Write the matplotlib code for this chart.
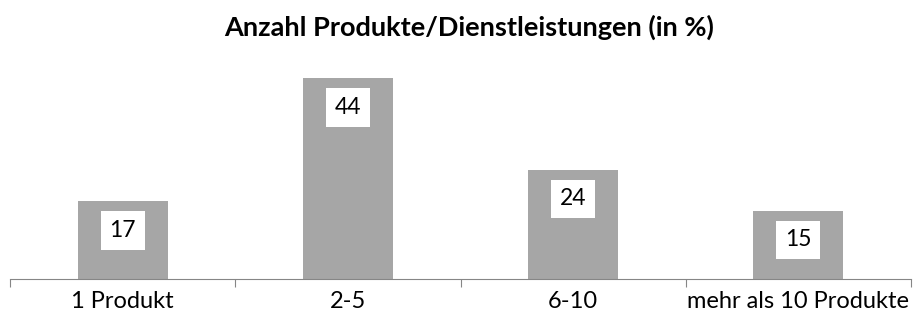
import numpy as np
import matplotlib
matplotlib.use('Agg')
import matplotlib.pyplot as plt

categories = ['1 Produkt', '2-5', '6-10', 'mehr als 10 Produkte']
values = [17, 44, 24, 15]
title = 'Anzahl Produkte/Dienstleistungen (in %)'

plt.rcParams['font.family'] = ['Lato', 'DejaVu Sans']

fig = plt.figure(figsize=(9.17, 3.24), dpi=100)
ax = fig.add_axes([10 / 917, 1 - 279 / 324, 901 / 917, 228 / 324])

x = np.arange(len(categories))
ax.bar(x, values, width=0.4, color='#a6a6a6', zorder=2)
ax.set_xlim(-0.5, len(categories) - 0.5)
ax.set_ylim(0, 50)

# value labels in white boxes, a fixed distance below each bar top
for xi, v in zip(x, values):
    ax.annotate(str(v), (xi, v), xytext=(0, -21), textcoords='offset points',
                ha='center', va='center', fontsize=16.5, color='black',
                bbox=dict(boxstyle='square,pad=0.38', fc='white', ec='none'),
                zorder=3)

# ticks at the category boundaries, labels at the centres
ax.set_xticks(np.arange(len(categories) + 1) - 0.5)
ax.set_xticklabels([])
ax.tick_params(axis='x', which='major', length=6, color='#868686', direction='out')
ax.set_xticks(x, minor=True)
ax.set_xticklabels(categories, minor=True, fontsize=17)
ax.tick_params(axis='x', which='minor', length=0, pad=9)

ax.set_yticks([])
for side in ['left', 'right', 'top']:
    ax.spines[side].set_visible(False)
ax.spines['bottom'].set_color('#868686')

fig.text(469 / 917, 1 - 27 / 324, title, ha='center', va='center',
         fontsize=19.5, fontweight='bold')

fig.savefig('out.png', dpi=100)
